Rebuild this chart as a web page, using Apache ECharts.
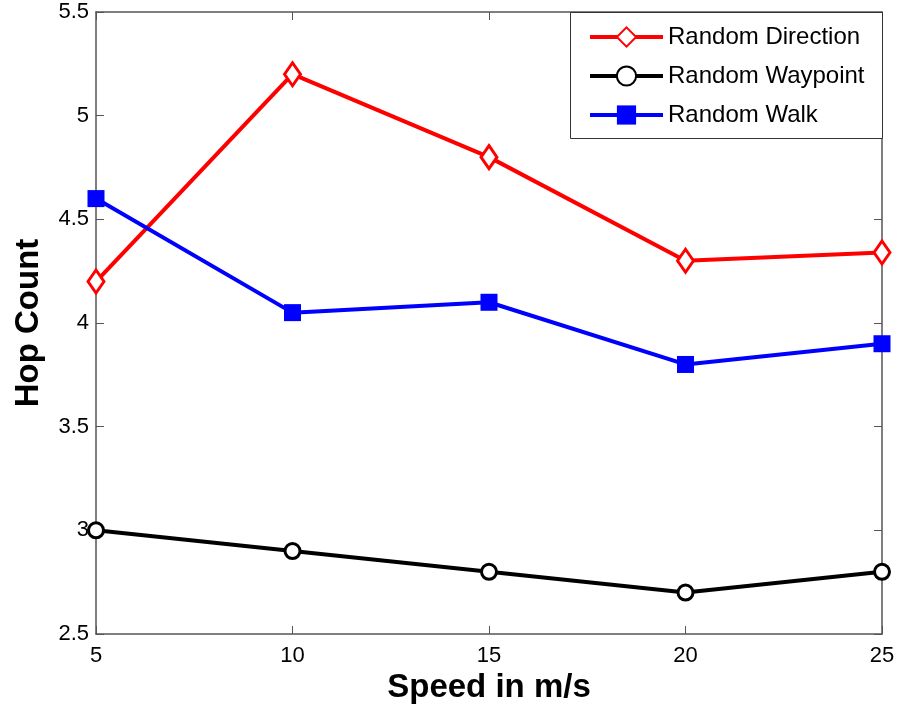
<!DOCTYPE html>
<html>
<head>
<meta charset="utf-8">
<script src="https://cdn.jsdelivr.net/npm/echarts@6/dist/echarts.min.js"></script>
<style>html,body{margin:0;padding:0;background:#fff}#c{width:899px;height:706px}</style>
</head>
<body>
<div id="c"></div>
<script>
const speeds = [5, 10, 15, 20, 25];
const randomDirection = [4.2, 5.2, 4.8, 4.3, 4.34];
const randomWaypoint = [3.0, 2.9, 2.8, 2.7, 2.8];
const randomWalk = [4.6, 4.05, 4.1, 3.8, 3.9];
const seriesNames = ['Random Direction', 'Random Waypoint', 'Random Walk'];
const xTitle = 'Speed in m/s';
const yTitle = 'Hop Count';

const pair = (vals) => speeds.map((s, i) => [s, vals[i]]);
const font = 'Liberation Sans, Arial, Helvetica, sans-serif';
const axisCol = '#555';

const chart = echarts.init(document.getElementById('c'), null, {renderer: 'canvas'});
const baseAxis = {
  type: 'value',
  axisLine: {show: true, lineStyle: {color: axisCol, width: 1.5}},
  axisTick: {show: true, inside: true, length: 8, lineStyle: {color: axisCol, width: 1}},
  splitLine: {show: false}
};
chart.setOption({
  animation: false,
  backgroundColor: '#fff',
  grid: {left: 96, right: 17, top: 12, bottom: 72, containLabel: false, outerBoundsMode: 'none'},
  xAxis: [
    Object.assign({}, baseAxis, {
      position: 'bottom', min: 5, max: 25, interval: 5,
      name: xTitle, nameLocation: 'middle', nameGap: 36,
      nameTextStyle: {fontFamily: font, fontSize: 33, fontWeight: 'bold', color: '#000'},
      axisLabel: {fontFamily: font, fontSize: 22, color: '#000', margin: 11}
    }),
    Object.assign({}, baseAxis, {
      position: 'top', min: 5, max: 25, interval: 5,
      axisLabel: {show: false}
    })
  ],
  yAxis: [
    Object.assign({}, baseAxis, {
      position: 'left', min: 2.5, max: 5.5, interval: 0.5,
      name: yTitle, nameLocation: 'middle', nameGap: 51,
      nameTextStyle: {fontFamily: font, fontSize: 33, fontWeight: 'bold', color: '#000'},
      axisLabel: {fontFamily: font, fontSize: 22, color: '#000', margin: 7}
    }),
    Object.assign({}, baseAxis, {
      position: 'right', min: 2.5, max: 5.5, interval: 0.5,
      axisLabel: {show: false}
    })
  ],
  legend: {
    orient: 'vertical', left: 583, top: 20,
    itemWidth: 73, itemHeight: 24, itemGap: 15,
    z: 10,
    lineStyle: {width: 4},
    textStyle: {fontFamily: font, fontSize: 24, color: '#000'},
    data: seriesNames
  },
  graphic: [{
    type: 'rect', z: 5,
    shape: {x: 570.5, y: 12.5, width: 312, height: 126},
    style: {fill: '#fff', stroke: '#333', lineWidth: 1}
  }],
  series: [
    {
      name: seriesNames[0], type: 'line', data: pair(randomDirection),
      symbol: 'diamond', symbolSize: [16, 23], color: '#ff0000',
      lineStyle: {color: '#ff0000', width: 4},
      itemStyle: {color: '#fff', borderColor: '#ff0000', borderWidth: 3}
    },
    {
      name: seriesNames[1], type: 'line', data: pair(randomWaypoint),
      symbol: 'circle', symbolSize: 15, color: '#000',
      lineStyle: {color: '#000', width: 4},
      itemStyle: {color: '#fff', borderColor: '#000', borderWidth: 3}
    },
    {
      name: seriesNames[2], type: 'line', data: pair(randomWalk),
      symbol: 'rect', symbolSize: 17, color: '#0000ff',
      lineStyle: {color: '#0000ff', width: 4},
      itemStyle: {color: '#0000ff'}
    }
  ]
});
</script>
</body>
</html>
